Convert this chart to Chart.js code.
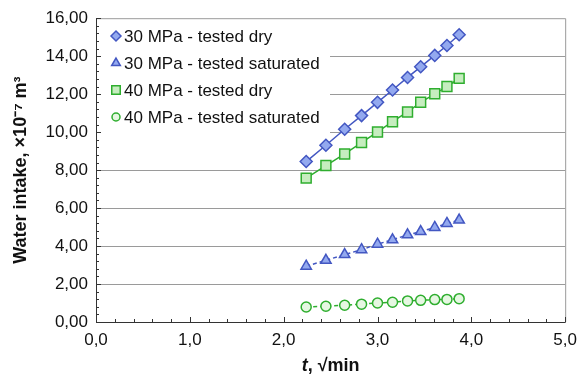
<!DOCTYPE html>
<html>
<head>
<meta charset="utf-8">
<script src="https://cdn.jsdelivr.net/npm/chart.js@4/dist/chart.umd.min.js"></script>
<style>
  html, body { margin: 0; padding: 0; background: #fff; }
  #wrap { width: 585px; height: 382px; }
</style>
</head>
<body>
<div id="wrap"><canvas id="chart" width="585" height="382"></canvas></div>
<script>
// t values (sqrt of minutes)
const tValues = [2.24, 2.45, 2.65, 2.83, 3.00, 3.16, 3.32, 3.46, 3.61, 3.74, 3.87];

// water intake, x10^-7 m3
const dry30 = [8.45, 9.31, 10.15, 10.87, 11.57, 12.22, 12.88, 13.44, 14.04, 14.56, 15.13];
const sat30 = [2.94, 3.25, 3.55, 3.81, 4.10, 4.33, 4.59, 4.76, 4.98, 5.19, 5.37];
const dry40 = [7.58, 8.24, 8.85, 9.45, 10.01, 10.55, 11.06, 11.57, 12.02, 12.40, 12.83];
const sat40 = [0.79, 0.83, 0.88, 0.94, 1.00, 1.04, 1.11, 1.14, 1.18, 1.19, 1.23];

const seriesLabels = [
  '30 MPa - tested dry',
  '30 MPa - tested saturated',
  '40 MPa - tested dry',
  '40 MPa - tested saturated'
];

const xTickLabels = ['0,0', '1,0', '2,0', '3,0', '4,0', '5,0'];

const BLUE = '#4357c2';
const BLUE_FILL = '#93a9ef';
const GREEN = '#2fae2f';
const GREEN_FILL = '#c6edbf';
const FONT = '"Liberation Sans", Arial, sans-serif';

function toPoints(ys) {
  return ys.map((y, i) => ({ x: tValues[i], y }));
}

function makeDataset(label, ys, color, fill, style, radius, dashed) {
  return {
    label,
    data: toPoints(ys),
    showLine: true,
    borderColor: color,
    borderWidth: 1.5,
    borderDash: dashed ? [4, 3] : [],
    pointStyle: style,
    pointRadius: radius,
    pointBorderWidth: 1.5,
    pointBorderColor: color,
    pointBackgroundColor: fill,
    backgroundColor: fill
  };
}

// inner minor/major ticks, frame and in-plot legend
const decorPlugin = {
  id: 'decor',
  beforeDatasetsDraw(chart) {
    const { ctx, chartArea: a } = chart;
    // legend box covers gridlines
    ctx.save();
    ctx.fillStyle = '#fff';
    ctx.fillRect(a.left + 2, a.top + 2, 232, 118);
    ctx.restore();
  },
  afterDatasetsDraw(chart) {
    const { ctx, chartArea: a, scales } = chart;
    const xs = scales.x, ys = scales.y;
    ctx.save();
    // frame top/right
    ctx.strokeStyle = '#9a9a9a';
    ctx.lineWidth = 1;
    ctx.beginPath();
    ctx.moveTo(a.left, a.top + 0.5);
    ctx.lineTo(a.right + 0.5, a.top + 0.5);
    ctx.lineTo(a.right + 0.5, a.bottom);
    ctx.stroke();
    // axes left/bottom
    ctx.strokeStyle = '#333';
    ctx.beginPath();
    ctx.moveTo(a.left + 0.5, a.top);
    ctx.lineTo(a.left + 0.5, a.bottom + 0.5);
    ctx.lineTo(a.right + 0.5, a.bottom + 0.5);
    ctx.stroke();
    // x ticks
    ctx.beginPath();
    for (let i = 0; i <= 25; i++) {
      const px = Math.round(xs.getPixelForValue(i * 0.2)) + 0.5;
      const len = i % 5 === 0 ? 5 : 3;
      ctx.moveTo(px, a.bottom);
      ctx.lineTo(px, a.bottom - len);
    }
    // y ticks
    for (let i = 0; i <= 40; i++) {
      const py = Math.round(ys.getPixelForValue(i * 0.4)) + 0.5;
      const len = i % 5 === 0 ? 5 : 3;
      ctx.moveTo(a.left, py);
      ctx.lineTo(a.left + len, py);
    }
    ctx.stroke();

    // legend
    const sets = chart.data.datasets;
    ctx.font = '17px ' + FONT;
    ctx.textBaseline = 'middle';
    ctx.fillStyle = '#111';
    sets.forEach((ds, i) => {
      const y = 36 + i * 27;
      const mx = 116;
      ctx.save();
      ctx.fillStyle = ds.pointBackgroundColor;
      ctx.strokeStyle = ds.pointBorderColor;
      ctx.lineWidth = 1.5;
      Chart.helpers.drawPoint(ctx, { pointStyle: ds.pointStyle, radius: ds.pointRadius - 1, borderWidth: 1.5, rotation: 0 }, mx, y);
      ctx.restore();
      ctx.fillText(ds.label, 124, y + 1);
    });

    // x title: t italic bold
    ctx.font = 'italic bold 18px ' + FONT;
    const t1 = 't', t2 = ', \u221Amin';
    const w1 = ctx.measureText(t1).width;
    ctx.font = 'bold 18px ' + FONT;
    const w2 = ctx.measureText(t2).width;
    const cx = (a.left + a.right) / 2;
    const start = cx - (w1 + w2) / 2;
    ctx.textAlign = 'left';
    ctx.fillStyle = '#111';
    ctx.font = 'italic bold 18px ' + FONT;
    ctx.fillText(t1, start, 366);
    ctx.font = 'bold 18px ' + FONT;
    ctx.fillText(t2, start + w1, 366);
    ctx.restore();
  }
};

new Chart(document.getElementById('chart'), {
  type: 'scatter',
  data: {
    datasets: [
      makeDataset(seriesLabels[0], dry30, BLUE, BLUE_FILL, 'rectRot', 6, false),
      makeDataset(seriesLabels[1], sat30, BLUE, BLUE_FILL, 'triangle', 6, true),
      makeDataset(seriesLabels[2], dry40, GREEN, GREEN_FILL, 'rect', 7, false),
      makeDataset(seriesLabels[3], sat40, GREEN, '#e6f7e2', 'circle', 5, true)
    ]
  },
  options: {
    responsive: false,
    animation: false,
    layout: { padding: { top: 14, right: 17, left: 10, bottom: 0 } },
    plugins: {
      legend: { display: false },
      tooltip: { enabled: false }
    },
    scales: {
      x: {
        type: 'linear',
        min: 0,
        max: 5,
        afterFit: s => { s.height = 60; },
        grid: { display: false, drawTicks: false },
        border: { display: false },
        ticks: {
          stepSize: 1,
          padding: 8,
          color: '#111',
          font: { family: FONT, size: 17 },
          callback: v => xTickLabels[Math.round(v)]
        }
      },
      y: {
        type: 'linear',
        min: 0,
        max: 16,
        afterFit: s => { s.width = 86; },
        grid: {
          drawTicks: false,
          color: ctx => (ctx.tick && (ctx.tick.value === 0 || ctx.tick.value === 16)) ? 'rgba(0,0,0,0)' : '#9a9a9a',
          lineWidth: 1
        },
        border: { display: false },
        title: {
          display: true,
          text: 'Water intake, \u00D710\u207B\u2077 m\u00B3',
          color: '#111',
          font: { family: FONT, size: 18, weight: 'bold' },
          padding: { top: 0, bottom: 4 }
        },
        ticks: {
          stepSize: 2,
          padding: 8,
          color: '#111',
          font: { family: FONT, size: 17 },
          callback: v => v.toFixed(2).replace('.', ',')
        }
      }
    }
  },
  plugins: [decorPlugin]
});
</script>
</body>
</html>
